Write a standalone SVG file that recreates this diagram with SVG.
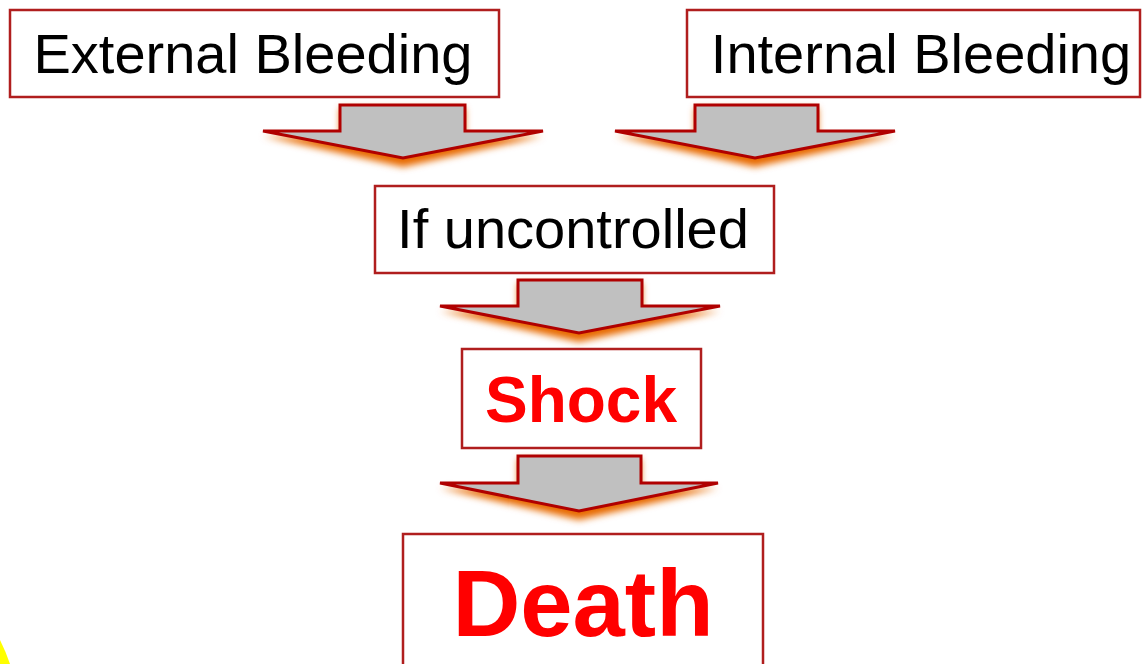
<svg xmlns="http://www.w3.org/2000/svg" width="1145" height="664" viewBox="0 0 1145 664">
  <defs>
    <filter id="glow" x="-20%" y="-50%" width="140%" height="200%">
      <feGaussianBlur stdDeviation="3.5"/>
    </filter>
    <style>
      .box{fill:#fff;stroke:#b01e1e;stroke-width:2.5}
      .lbl{font-family:"Liberation Sans",Arial,sans-serif;font-size:56px;fill:#000}
      .red{font-family:"Liberation Sans",Arial,sans-serif;font-weight:bold;fill:#ff0000}
      .glow{fill:#e86a00;filter:url(#glow)}
      .arr{fill:#c0c0c0;stroke:#b00000;stroke-width:3;stroke-linejoin:miter}
    </style>
  </defs>
  <rect width="1145" height="664" fill="#fff"/>
  <path d="M0,640 Q6,652 10,664 L0,664 Z" fill="#ffff00"/>

  <g id="connectors">
    <g id="arrow1">
      <polygon class="glow" points="340,108 465,108 465,138 543,136 403,167 263,136 340,138"/>
      <polygon class="arr" points="340,105 465,105 465,131 543,131 403,158 263,131 340,131"/>
    </g>
    <g id="arrow2">
      <polygon class="glow" points="695,108 818,108 818,138 895,136 755,167 615,136 695,138"/>
      <polygon class="arr" points="695,105 818,105 818,131 895,131 755,158 615,131 695,131"/>
    </g>
    <g id="arrow3">
      <polygon class="glow" points="518,283 642,283 642,313 720,311 579,342 440,311 518,313"/>
      <polygon class="arr" points="518,280 642,280 642,306 720,306 579,333 440,306 518,306"/>
    </g>
    <g id="arrow4">
      <polygon class="glow" points="518,459 641,459 641,490 718,488 579,520 440,488 518,490"/>
      <polygon class="arr" points="518,456 641,456 641,483 718,483 579,511 440,483 518,483"/>
    </g>
  </g>

  <g id="external">
    <rect class="box" x="10" y="10" width="489" height="87"/>
    <text class="lbl" x="253" y="73" text-anchor="middle">External Bleeding</text>
  </g>
  <g id="internal">
    <rect class="box" x="687" y="10" width="453" height="87"/>
    <text class="lbl" x="921" y="73" text-anchor="middle">Internal Bleeding</text>
  </g>
  <g id="uncontrolled">
    <rect class="box" x="375" y="186" width="399" height="87"/>
    <text class="lbl" x="573" y="248" text-anchor="middle">If uncontrolled</text>
  </g>
  <g id="shock">
    <rect class="box" x="462" y="349" width="239" height="99"/>
    <text class="red" x="581" y="422" font-size="64" text-anchor="middle">Shock</text>
  </g>
  <g id="death">
    <rect class="box" x="403" y="534" width="360" height="140"/>
    <text class="red" x="583" y="636" font-size="94" text-anchor="middle">Death</text>
  </g>
</svg>
